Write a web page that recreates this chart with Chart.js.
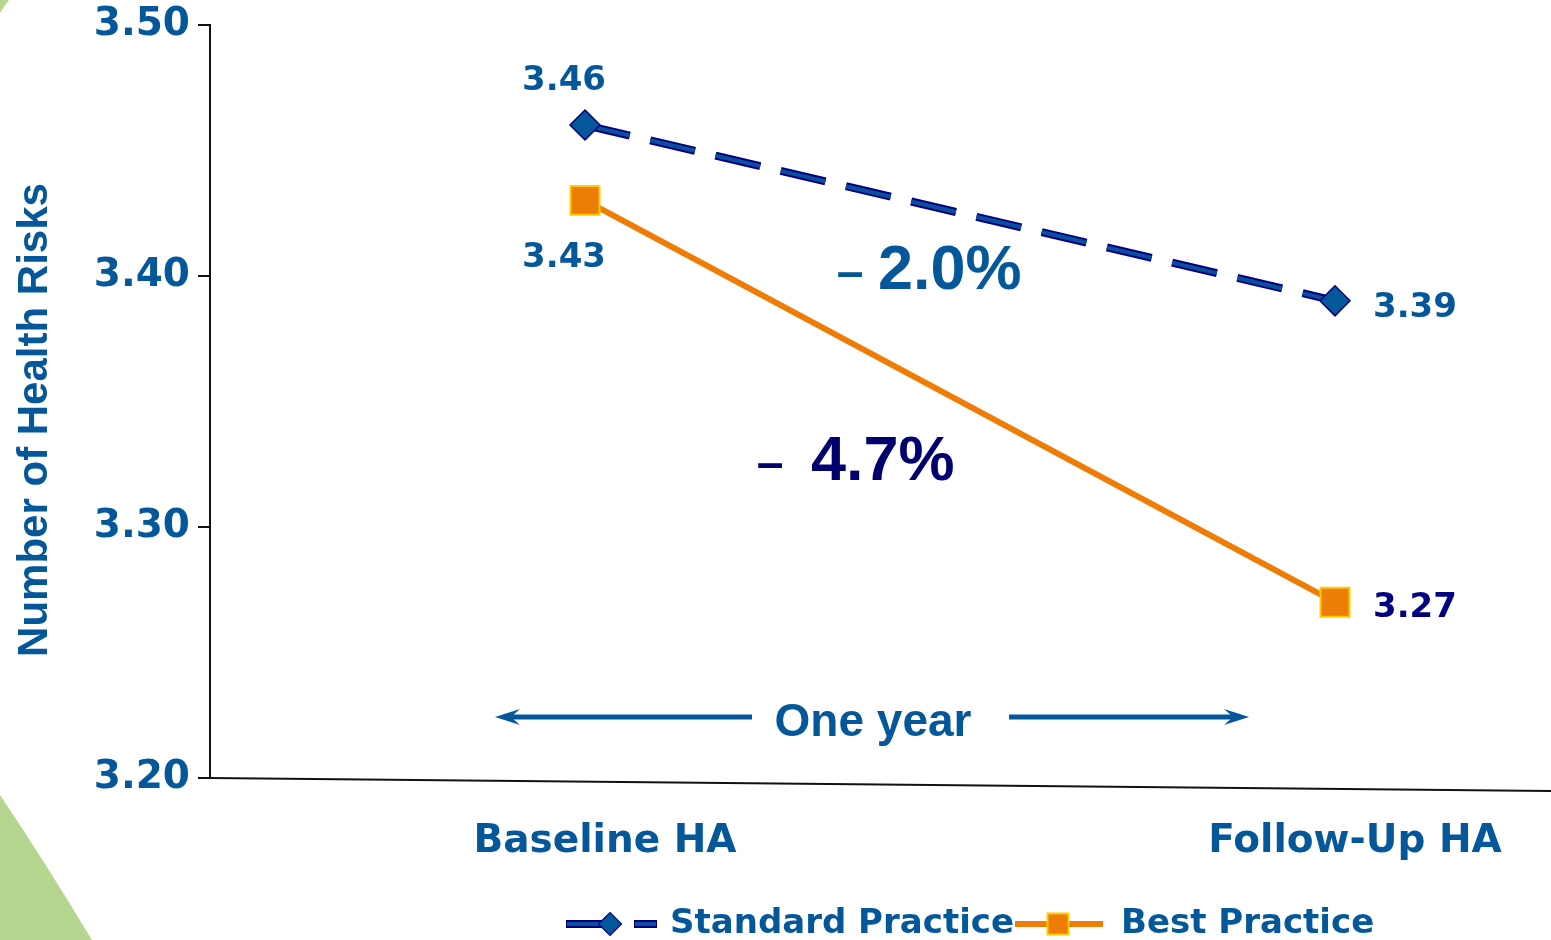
<!DOCTYPE html>
<html>
<head>
<meta charset="utf-8">
<script src="https://cdn.jsdelivr.net/npm/chart.js@4.4.1/dist/chart.umd.min.js"></script>
<style>
  html, body { margin: 0; padding: 0; background: #fff; overflow: hidden; }
  canvas { display: block; }
</style>
</head>
<body>
<canvas id="chart" width="1551" height="940"></canvas>
<script>
// ---- data ----
const categories = ['Baseline HA', 'Follow-Up HA'];
const seriesNames = ['Standard Practice', 'Best Practice'];
const standardPractice = [3.46, 3.39];
const bestPractice = [3.43, 3.27];
const yTickValues = [3.20, 3.30, 3.40, 3.50];
const changeLabels = ['2.0%', '4.7%'];
const axisTitle = 'Number of Health Risks';
const spanLabel = 'One year';

// ---- palette & fonts ----
const BLUE = '#04589a';
const CORE = '#0a4f9c';
const NAVY = '#000080';
const DEEP = '#00006e';
const ORANGE = '#ee7d07';
const GOLD = '#ffcc00';
const GREEN = '#b5d68f';
const VERDANA = 'DejaVu Sans';
const ARIAL = 'Liberation Sans';

// ---- legend symbols (line + marker) ----
function standardSymbol() {
  const c = document.createElement('canvas');
  c.width = 96; c.height = 26;
  const g = c.getContext('2d');
  const y = 13;
  [[5, 44], [73, 96]].forEach(([a, b]) => {
    g.fillStyle = NAVY; g.fillRect(a, y - 4, b - a, 8);
    g.fillStyle = CORE; g.fillRect(a + 1, y - 2, b - a - 2, 4);
  });
  g.beginPath();
  g.moveTo(49 - 11.5, y); g.lineTo(49, y - 11.5); g.lineTo(49 + 11.5, y); g.lineTo(49, y + 11.5);
  g.closePath();
  g.fillStyle = BLUE; g.fill();
  g.lineWidth = 1.2; g.strokeStyle = NAVY; g.stroke();
  return c;
}
function bestSymbol() {
  const c = document.createElement('canvas');
  c.width = 96; c.height = 26;
  const g = c.getContext('2d');
  const y = 13;
  g.fillStyle = ORANGE; g.fillRect(3, y - 3, 88, 6);
  g.fillStyle = ORANGE; g.fillRect(35.5, y - 10.5, 21, 21);
  g.lineWidth = 2; g.strokeStyle = GOLD; g.strokeRect(35.5, y - 10.5, 21, 21);
  return c;
}
const legendSymbols = [standardSymbol(), bestSymbol()];

// ---- decorations, value labels and annotations ----
const decor = {
  id: 'decor',
  afterLayout(chart) {
    // centre the legend row under the plot and drop it to the page foot
    const lg = chart.legend;
    if (!lg || !lg.lineWidths) return;
    const pad = lg.options.labels.padding;
    const start = (lg.left + pad + lg.right - lg.lineWidths[0]) / 2;
    const dx = 565 - start;
    lg.left += dx; lg.right += dx;
    lg.top += 11; lg.bottom += 11;
  },
  beforeDraw(chart) {
    const ctx = chart.ctx;
    ctx.save();
    ctx.fillStyle = '#ffffff';
    ctx.fillRect(0, 0, chart.width, chart.height);
    ctx.fillStyle = GREEN;
    ctx.beginPath();
    ctx.moveTo(0, 0); ctx.lineTo(9, 0); ctx.quadraticCurveTo(4, 6, 0, 13); ctx.closePath();
    ctx.fill();
    ctx.beginPath();
    ctx.moveTo(0, 795); ctx.quadraticCurveTo(45, 862, 92, 940); ctx.lineTo(0, 940); ctx.closePath();
    ctx.fill();
    ctx.restore();
  },
  beforeDatasetsDraw(chart) {
    // slightly sloping base line of the plot
    const {ctx, chartArea} = chart;
    ctx.save();
    ctx.strokeStyle = '#111';
    ctx.lineWidth = 2;
    ctx.beginPath();
    ctx.moveTo(chartArea.left - 1, chartArea.bottom);
    ctx.lineTo(chart.width, chartArea.bottom + 13);
    ctx.stroke();
    ctx.restore();
  },
  afterDatasetsDraw(chart) {
    const {ctx} = chart;
    ctx.save();

    // value labels next to the markers
    ctx.font = 'bold 34px "' + VERDANA + '"';
    ctx.textBaseline = 'alphabetic';
    const std = chart.getDatasetMeta(0).data;
    const best = chart.getDatasetMeta(1).data;
    std.forEach((pt, i) => {
      ctx.fillStyle = BLUE;
      if (i === 0) { ctx.textAlign = 'center'; ctx.fillText(standardPractice[i].toFixed(2), pt.x - 21, pt.y - 35); }
      else { ctx.textAlign = 'left'; ctx.fillText(standardPractice[i].toFixed(2), pt.x + 38, pt.y + 16); }
    });
    best.forEach((pt, i) => {
      if (i === 0) { ctx.fillStyle = BLUE; ctx.textAlign = 'center'; ctx.fillText(bestPractice[i].toFixed(2), pt.x - 21, pt.y + 67); }
      else { ctx.fillStyle = NAVY; ctx.textAlign = 'left'; ctx.fillText(bestPractice[i].toFixed(2), pt.x + 38, pt.y + 15); }
    });

    // percentage changes
    ctx.textAlign = 'center';
    ctx.font = 'bold 48px "' + ARIAL + '"';
    ctx.fillStyle = BLUE; ctx.fillText('\u2013', 850, 288);
    ctx.fillStyle = DEEP; ctx.fillText('\u2013', 770, 479);
    ctx.textAlign = 'left';
    ctx.font = 'bold 63px "' + ARIAL + '"';
    ctx.fillStyle = BLUE; ctx.fillText(changeLabels[0], 878, 289);
    ctx.fillStyle = DEEP; ctx.fillText(changeLabels[1], 811, 480);

    // one-year span arrows
    ctx.fillStyle = BLUE;
    const ay = 717;
    ctx.fillRect(508, ay - 2.5, 752 - 508, 5);
    ctx.fillRect(1009, ay - 2.5, 1236 - 1009, 5);
    const head = (tx, s) => {
      ctx.beginPath();
      ctx.moveTo(tx, ay);
      ctx.lineTo(tx + s * 25, ay - 8);
      ctx.lineTo(tx + s * 16, ay);
      ctx.lineTo(tx + s * 25, ay + 8);
      ctx.closePath();
      ctx.fill();
    };
    head(495, 1);
    head(1249, -1);
    ctx.textAlign = 'center';
    ctx.font = 'bold 46px "' + ARIAL + '"';
    ctx.fillText(spanLabel, 873, 736);

    // vertical axis title
    ctx.translate(47, 420);
    ctx.rotate(-Math.PI / 2);
    ctx.font = 'bold 42px "' + ARIAL + '"';
    ctx.fillStyle = BLUE;
    ctx.textAlign = 'center';
    ctx.fillText(axisTitle, 0, 0);
    ctx.restore();
  }
};

const toPoints = vals => vals.map((v, i) => ({x: i, y: v}));
const DASH = [46, 21];

new Chart(document.getElementById('chart'), {
  type: 'line',
  data: {
    datasets: [
      {
        label: seriesNames[0],
        data: toPoints(standardPractice),
        borderColor: CORE,
        borderWidth: 4,
        borderDash: DASH,
        pointStyle: 'rectRot',
        pointRadius: 15,
        pointBackgroundColor: BLUE,
        pointBorderColor: NAVY,
        pointBorderWidth: 1.5,
        order: 0
      },
      {
        label: seriesNames[1],
        data: toPoints(bestPractice),
        borderColor: ORANGE,
        borderWidth: 6,
        pointStyle: 'rect',
        pointRadius: 20.5,
        pointBackgroundColor: ORANGE,
        pointBorderColor: GOLD,
        pointBorderWidth: 2,
        order: 1
      },
      {
        // navy casing under the dashed standard-practice line
        label: seriesNames[0] + ' casing',
        data: toPoints(standardPractice),
        borderColor: NAVY,
        borderWidth: 8,
        borderDash: DASH,
        pointRadius: 0,
        order: 2
      }
    ]
  },
  options: {
    responsive: false,
    devicePixelRatio: 1,
    animation: false,
    events: [],
    layout: { autoPadding: false, padding: { left: 0, right: 0, top: 0, bottom: 0 } },
    scales: {
      x: {
        type: 'linear',
        min: -0.5,
        max: 1.288,
        afterBuildTicks: s => { s.ticks = categories.map((_, i) => ({value: i})); },
        afterFit: s => { s.height = (s.chart.height - (s.chart.legend ? s.chart.legend.height : 0)) - 778; },
        grid: { display: false, drawTicks: false },
        border: { display: false },
        ticks: {
          callback: v => categories[Math.round(v)],
          autoSkip: false,
          maxRotation: 0,
          minRotation: 0,
          labelOffset: 20,
          padding: 40,
          color: BLUE,
          font: { family: VERDANA, size: 39, weight: 'bold' }
        }
      },
      y: {
        min: 3.2,
        max: 3.5,
        afterBuildTicks: s => { s.ticks = yTickValues.map(v => ({value: v})); },
        afterFit: s => { s.width = 210; },
        grid: { drawOnChartArea: false, drawTicks: true, tickLength: 12, color: '#111', lineWidth: 2 },
        border: { display: true, color: '#111', width: 2 },
        ticks: {
          callback: v => Number(v).toFixed(2),
          padding: 8,
          color: BLUE,
          font: { family: VERDANA, size: 39, weight: 'bold', lineHeight: 0.85 }
        }
      }
    },
    plugins: {
      tooltip: { enabled: false },
      title: { display: false },
      legend: {
        position: 'bottom',
        labels: {
          usePointStyle: true,
          pointStyleWidth: 88,
          padding: 2,
          color: BLUE,
          font: { family: VERDANA, size: 34, weight: 'bold' },
          generateLabels: () => seriesNames.map((name, i) => ({
            text: name,
            pointStyle: legendSymbols[i],
            datasetIndex: i,
            hidden: false,
            lineWidth: 0,
            fillStyle: 'rgba(0,0,0,0)',
            strokeStyle: 'rgba(0,0,0,0)',
            fontColor: BLUE
          }))
        }
      }
    }
  },
  plugins: [decor]
});
</script>
</body>
</html>
